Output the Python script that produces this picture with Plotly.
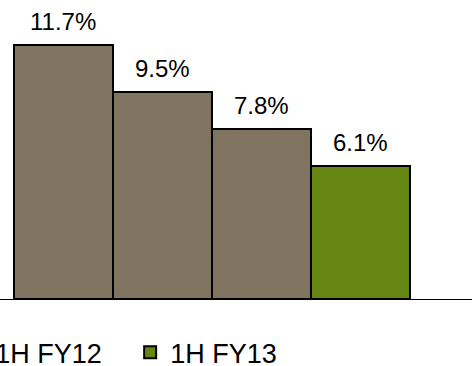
import plotly.graph_objects as go

# Ratio by period, in percent
periods = ["FY10", "FY11", "1H FY12", "1H FY13"]
values = [11.7, 9.5, 7.8, 6.1]
series_names = ["1H FY12", "1H FY13"]

brown = "#807360"
green = "#668614"
font_family = "Liberation Sans, Arial, sans-serif"

fig = go.Figure()

# Earlier periods in brown, latest half-year in green
fig.add_trace(go.Bar(
    x=[0, 1, 2], y=values[:3], name=series_names[0],
    marker=dict(color=brown, line=dict(color="black", width=2)),
    width=1,
))
fig.add_trace(go.Bar(
    x=[3], y=values[3:], name=series_names[1],
    marker=dict(color=green, line=dict(color="black", width=2)),
    width=1,
))

# Value labels above each bar
for i, v in enumerate(values):
    fig.add_annotation(
        x=i, y=v, text=f"{v:.1f}%", showarrow=False,
        yanchor="bottom", yshift=8,
        font=dict(family=font_family, size=24, color="black"),
    )

fig.update_layout(
    width=472, height=366,
    margin=dict(l=0, r=0, t=0, b=67, autoexpand=False),
    paper_bgcolor="white", plot_bgcolor="white",
    barmode="overlay", bargap=0,
    showlegend=True,
    legend=dict(
        orientation="h", x=-0.095, xanchor="left",
        y=-0.18, yanchor="middle",
        entrywidth=130, entrywidthmode="pixels",
        font=dict(family=font_family, size=27, color="black"),
    ),
    xaxis=dict(
        range=[-0.641, 4.126], showticklabels=False, ticks="",
        showgrid=False, zeroline=False,
        showline=True, linecolor="black", linewidth=1,
    ),
    yaxis=dict(
        range=[0, 13.75], visible=False, showgrid=False, zeroline=False,
    ),
)

fig.write_html("out.html")
